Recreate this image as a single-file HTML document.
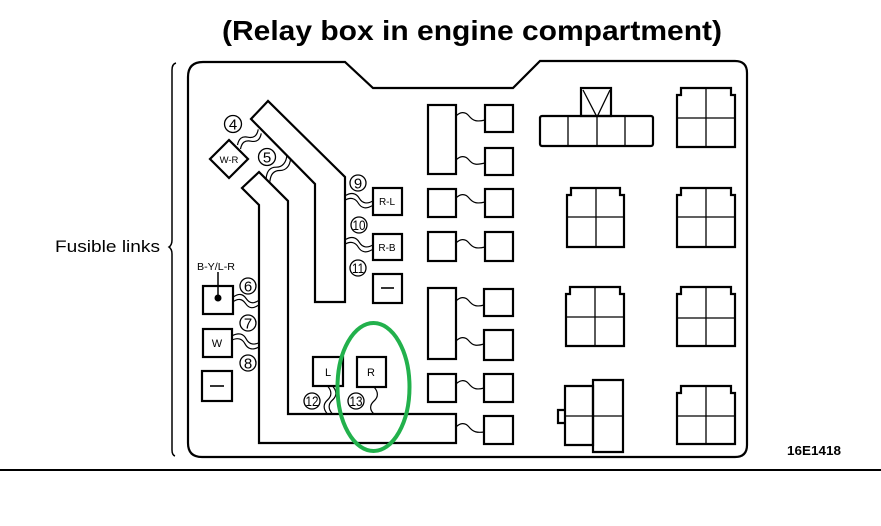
<!DOCTYPE html>
<html><head><meta charset="utf-8"><style>
html,body{margin:0;padding:0;background:#fff;}
svg{display:block;}
text{font-family:"Liberation Sans",sans-serif;fill:#000;}
</style></head><body>
<svg width="881" height="526" viewBox="0 0 881 526" xmlns="http://www.w3.org/2000/svg">
<rect width="881" height="526" fill="#fff"/>
<!-- title -->
<text x="222" y="40" font-size="28" font-weight="bold" textLength="500" lengthAdjust="spacingAndGlyphs">(Relay box in engine compartment)</text>

<!-- fusible links label & bracket -->
<text x="55" y="252" font-size="17" textLength="105" lengthAdjust="spacingAndGlyphs">Fusible links</text>
<path d="M176,63 Q172,64 172,70 V240 Q172,245 169,247 Q172,249 172,254 V450 Q172,455 175,456" fill="none" stroke="#000" stroke-width="1.5"/>

<!-- outer box -->
<path d="M203,62 H345 L373,88 H513 L540,61 H735 Q747,61 747,73 V445 Q747,457 735,457 H202 Q188,457 188,443 V77 Q188,62 203,62 Z" fill="none" stroke="#000" stroke-width="2.2"/>
<!-- bottom rule -->
<line x1="0" y1="470" x2="881" y2="470" stroke="#000" stroke-width="2"/>
<text x="787" y="455" font-size="12.5" font-weight="bold" textLength="54" lengthAdjust="spacingAndGlyphs">16E1418</text>

<g fill="none" stroke="#000" stroke-width="2.2" stroke-linejoin="miter">
<!-- bar A -->
<path d="M268,101 L251,119 L315,184 V302 H345 V177 Z"/>
<!-- bar B -->
<path d="M259,172 L242,188 L259,205 V443 H456 V414 H288 V201 Z"/>

<!-- W-R diamond -->
<path d="M229,140 L248,159 L229,178 L210,159 Z"/>
<!-- R-L, R-B, dash boxes -->
<rect x="373" y="188" width="29" height="27"/>
<rect x="373" y="234" width="29" height="26"/>
<rect x="373" y="274" width="29" height="29"/>
<!-- left column boxes -->
<rect x="203" y="286" width="30" height="28"/>
<rect x="203" y="329" width="29" height="28"/>
<rect x="202" y="371" width="30" height="30"/>
<!-- L R boxes -->
<rect x="313" y="357" width="30" height="29"/>
<rect x="357" y="357" width="29" height="30"/>

<!-- fuse column -->
<rect x="428" y="105" width="28" height="69"/>
<rect x="485" y="105" width="28" height="27"/>
<rect x="485" y="148" width="28" height="27"/>
<rect x="428" y="189" width="28" height="28"/>
<rect x="485" y="189" width="28" height="28"/>
<rect x="428" y="232" width="28" height="29"/>
<rect x="485" y="232" width="28" height="29"/>
<rect x="428" y="288" width="28" height="71"/>
<rect x="484" y="289" width="29" height="27"/>
<rect x="484" y="330" width="29" height="30"/>
<rect x="428" y="374" width="28" height="28"/>
<rect x="484" y="374" width="29" height="28"/>
<rect x="484" y="416" width="29" height="28"/>

<!-- T-shaped relay -->
<rect x="581" y="88" width="30" height="28"/>
<rect x="540" y="116" width="113" height="30" rx="2"/>

<!-- 4-cell relays (notched) -->
<path d="M677,95 h4 v-7 h50 v7 h4 V147 H677 Z"/>
<path d="M567,195 h4 v-7 h49 v7 h4 V247 H567 Z"/>
<path d="M677,195 h4 v-7 h50 v7 h4 V247 H677 Z"/>
<path d="M566,294 h4 v-7 h50 v7 h4 V346 H566 Z"/>
<path d="M677,294 h4 v-7 h50 v7 h4 V346 H677 Z"/>
<path d="M677,393 h4 v-7 h50 v7 h4 V444 H677 Z"/>
<!-- composite relay -->
<path d="M565,386 H593 V445 H565 Z"/>
<path d="M593,380 H623 V452 H593 Z"/>
<path d="M565,410 H558 V423 H565"/>
</g>

<!-- thin internal dividers -->
<g stroke="#000" stroke-width="1.3" fill="none">
<line x1="568" y1="116" x2="568" y2="146"/>
<line x1="597" y1="116" x2="597" y2="146"/>
<line x1="625" y1="116" x2="625" y2="146"/>
<path d="M583,90 L597,117 L610,90"/>
<line x1="706" y1="88" x2="706" y2="147"/><line x1="677" y1="118" x2="735" y2="118"/>
<line x1="596" y1="188" x2="596" y2="247"/><line x1="567" y1="217" x2="624" y2="217"/>
<line x1="706" y1="188" x2="706" y2="247"/><line x1="677" y1="217" x2="735" y2="217"/>
<line x1="595" y1="287" x2="595" y2="346"/><line x1="566" y1="317" x2="624" y2="317"/>
<line x1="706" y1="287" x2="706" y2="346"/><line x1="677" y1="318" x2="735" y2="318"/>
<line x1="706" y1="386" x2="706" y2="444"/><line x1="677" y1="416" x2="735" y2="416"/>
<line x1="565" y1="416" x2="623" y2="416"/>
</g>

<!-- fuse single wavy connectors -->
<g stroke="#000" stroke-width="1.2" fill="none">
<path d="M456,116 C460,112 465,111 469,116 S477,122 485,120"/>
<path d="M456,160 C460,156 465,155 469,160 S477,165 485,163"/>
<path d="M456,198 C460,194 465,193 469,198 S477,204 485,202"/>
<path d="M456,243 C460,239 465,238 469,243 S477,249 485,247"/>
<path d="M456,301 C460,297 465,296 469,301 S477,307 484,305"/>
<path d="M456,341 C460,337 465,336 469,341 S477,346 484,344"/>
<path d="M456,384 C460,380 465,379 469,384 S477,390 484,388"/>
<path d="M456,427 C460,423 465,422 469,427 S477,433 484,432"/>
</g>

<!-- double fusible link wires -->
<g stroke="#000" stroke-width="1.2" fill="none">
<g transform="translate(239,147) rotate(-37)"><path d="M0,-2.5 C5,-7 9,-7 13,-2.5 S21,2 26,-2.5 M0,2.5 C5,-2 9,-2 13,2.5 S21,7 26,2.5"/></g>
<g transform="translate(268,180) rotate(-48)"><path d="M0,-2.5 C6,-7 11,-7 15,-2.5 S25,2 31,-2.5 M0,2.5 C6,-2 11,-2 15,2.5 S25,7 31,2.5"/></g>
<g transform="translate(233,299.5) rotate(7)"><path d="M0,-2.5 C5,-7 9,-7 13,-2.5 S21,2 26,-2.5 M0,2.5 C5,-2 9,-2 13,2.5 S21,7 26,2.5"/></g>
<g transform="translate(232,338) rotate(14)"><path d="M0,-2.5 C5,-7 10,-7 14,-2.5 S23,2 28,-2.5 M0,2.5 C5,-2 10,-2 14,2.5 S23,7 28,2.5"/></g>
<g transform="translate(345,198) rotate(11)"><path d="M0,-2.5 C5,-7 10,-7 14,-2.5 S23,2 28,-2.5 M0,2.5 C5,-2 10,-2 14,2.5 S23,7 28,2.5"/></g>
<g transform="translate(345,242) rotate(11)"><path d="M0,-2.5 C5,-7 10,-7 14,-2.5 S23,2 28,-2.5 M0,2.5 C5,-2 10,-2 14,2.5 S23,7 28,2.5"/></g>
<g transform="translate(330,386) rotate(90)"><path d="M0,-2.5 C5,-7 10,-7 14,-2.5 S23,2 28,-2.5 M0,2.5 C5,-2 10,-2 14,2.5 S23,7 28,2.5"/></g>
<g transform="translate(374,387) rotate(90)"><path d="M0,0 C5,-4.5 10,-4.5 14,0 S23,4.5 27,0"/></g>
</g>

<!-- numbered circles -->
<g stroke="#000" stroke-width="1.3" fill="#fff">
<circle cx="233" cy="124" r="8.5"/>
<circle cx="267" cy="157" r="8.5"/>
<circle cx="248" cy="286" r="8"/>
<circle cx="248" cy="323" r="8"/>
<circle cx="248" cy="363" r="8"/>
<circle cx="358" cy="183" r="8"/>
<circle cx="359" cy="225" r="8"/>
<circle cx="358" cy="268" r="8"/>
<circle cx="312" cy="401" r="8"/>
<circle cx="356" cy="401" r="8"/>
</g>
<g font-size="15" text-anchor="middle">
<text x="233" y="129.5">4</text>
<text x="267" y="162.5">5</text>
<text x="248" y="291.5">6</text>
<text x="248" y="328.5">7</text>
<text x="248" y="368.5">8</text>
<text x="358" y="188.5">9</text>
<text x="359" y="230" font-size="14" textLength="13" lengthAdjust="spacingAndGlyphs">10</text>
<text x="358" y="273" font-size="14" textLength="12" lengthAdjust="spacingAndGlyphs">11</text>
<text x="312" y="406" font-size="14" textLength="13" lengthAdjust="spacingAndGlyphs">12</text>
<text x="356" y="406" font-size="14" textLength="13" lengthAdjust="spacingAndGlyphs">13</text>
</g>

<!-- box labels -->
<g font-size="10" text-anchor="middle">
<text x="229" y="163" font-size="9.5">W-R</text>
<text x="387" y="205">R-L</text>
<text x="387" y="251">R-B</text>
<text x="217" y="347" font-size="11">W</text>
<text x="328" y="376" font-size="11">L</text>
<text x="371" y="376" font-size="11">R</text>
<text x="216" y="270" font-size="10.5" textLength="38" lengthAdjust="spacingAndGlyphs">B-Y/L-R</text>
</g>
<line x1="218" y1="272" x2="218" y2="297" stroke="#000" stroke-width="1.5"/>
<circle cx="218" cy="298" r="3.5" fill="#000"/>
<g stroke="#000" stroke-width="1.6">
<line x1="381" y1="288" x2="394" y2="288"/>
<line x1="210" y1="386" x2="224" y2="386"/>
</g>

<!-- green highlight ellipse -->
<ellipse cx="373.5" cy="387" rx="36" ry="64" fill="none" stroke="#22b14c" stroke-width="4"/>
</svg>
</body></html>
